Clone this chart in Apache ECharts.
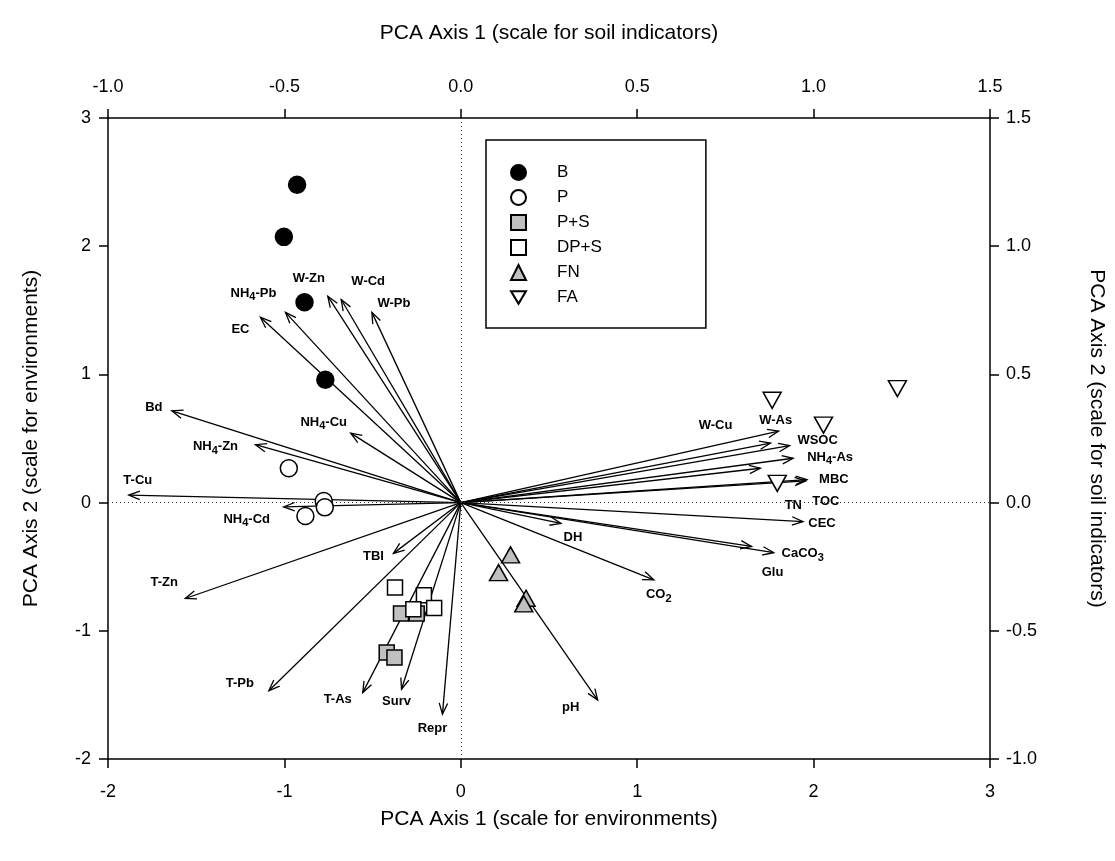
<!DOCTYPE html>
<html>
<head>
<meta charset="utf-8">
<script src="https://cdn.jsdelivr.net/npm/echarts@6/dist/echarts.min.js"></script>
<style>
  html, body { margin: 0; padding: 0; background: #fff; }
  #chart { width: 1115px; height: 861px; }
</style>
</head>
<body>
<div id="chart"></div>
<script>
// ---- Site scores (environment scale: bottom / left axes) ----
const siteB   = [[-0.928, 2.479], [-1.003, 2.073], [-0.886, 1.563], [-0.768, 0.958]];
const siteP   = [[-0.975, 0.268], [-0.777, 0.013], [-0.771, -0.037], [-0.881, -0.104]];
const sitePS  = [[-0.339, -0.865], [-0.250, -0.865], [-0.420, -1.169], [-0.376, -1.208]];
const siteDPS = [[-0.373, -0.662], [-0.209, -0.722], [-0.269, -0.831], [-0.151, -0.823]];
const siteFN  = [[0.282, -0.408], [0.214, -0.546], [0.370, -0.746], [0.357, -0.790]];
const siteFA  = [[1.765, 0.798], [2.056, 0.604], [2.475, 0.889], [1.794, 0.150]];

// ---- Soil indicator loadings (soil-indicator scale: top / right axes) ----
const indicatorNames = [
  'EC', 'NH4-Pb', 'W-Zn', 'W-Cd', 'W-Pb', 'NH4-Cu', 'Bd', 'NH4-Zn', 'T-Cu', 'NH4-Cd',
  'T-Zn', 'TBI', 'T-Pb', 'T-As', 'Surv', 'Repr',
  'W-As', 'W-Cu', 'WSOC', 'NH4-As', 'TN', 'MBC', 'TOC', 'CEC', 'CaCO3', 'Glu',
  'DH', 'CO2', 'pH'
];
const loadAxis1 = [
  -0.568, -0.497, -0.377, -0.339, -0.252, -0.312, -0.819, -0.582, -0.941, -0.502,
  -0.781, -0.191, -0.544, -0.278, -0.168, -0.052,
  0.901, 0.878, 0.932, 0.942, 0.849, 0.981, 0.978, 0.970, 0.887, 0.824,
  0.284, 0.547, 0.388
];
const loadAxis2 = [
  0.723, 0.742, 0.805, 0.792, 0.742, 0.271, 0.358, 0.226, 0.029, -0.017,
  -0.374, -0.198, -0.734, -0.741, -0.728, -0.825,
  0.279, 0.232, 0.222, 0.173, 0.134, 0.090, 0.085, -0.074, -0.195, -0.171,
  -0.081, -0.301, -0.770
];

// ---- Axis tick labels ----
const envTicks  = ['-2', '-1', '0', '1', '2', '3'];
const soilTicks = ['-1.0', '-0.5', '0.0', '0.5', '1.0', '1.5'];

// Label placement relative to each arrow tip, in pixels
const labelNudge = {
  'EC': [-20, 12], 'NH4-Pb': [-32, -19], 'W-Zn': [-19, -18], 'W-Cd': [27, -18],
  'W-Pb': [22, -9], 'NH4-Cu': [-27, -11], 'Bd': [-18, -3], 'NH4-Zn': [-40, 2],
  'T-Cu': [9, -15], 'NH4-Cd': [-37, 12], 'T-Zn': [-21, -16], 'TBI': [-20, 3],
  'T-Pb': [-29, -7], 'T-As': [-25, 7], 'Surv': [-5, 12], 'Repr': [-10, 14],
  'W-As': [-3, -11], 'W-Cu': [-55, -18], 'WSOC': [28, -5], 'NH4-As': [37, -1],
  'TN': [33, 37], 'MBC': [27, 0], 'TOC': [20, 21], 'CEC': [19, 2],
  'CaCO3': [29, 1], 'Glu': [21, 26], 'DH': [12, 14], 'CO2': [5, 15], 'pH': [-27, 7]
};

const FONT = '"Liberation Sans", Arial, Helvetica, sans-serif';

// digits in chemical names are set as subscripts
function richName(name) {
  return name.replace(/([^0-9]+)|([0-9]+)/g, (m, a, d) => a ? '{n|' + a + '}' : '{s|' + d + '}');
}

const arrowData = indicatorNames.map((n, i) => [loadAxis1[i], loadAxis2[i]]);

function renderArrow(params, api) {
  const o = api.coord([0, 0]);
  const t = api.coord([api.value(0), api.value(1)]);
  const dx = t[0] - o[0], dy = t[1] - o[1];
  const len = Math.hypot(dx, dy) || 1;
  const ux = dx / len, uy = dy / len;
  const h = 11, w = 4.2;
  const bx = t[0] - ux * h, by = t[1] - uy * h;
  const p1 = [bx - uy * w, by + ux * w];
  const p2 = [bx + uy * w, by - ux * w];
  const name = indicatorNames[params.dataIndex];
  const nd = labelNudge[name] || [0, 0];
  return {
    type: 'group',
    children: [
      { type: 'line', shape: { x1: o[0], y1: o[1], x2: t[0], y2: t[1] },
        style: { stroke: '#000', lineWidth: 1.3 } },
      { type: 'polyline', shape: { points: [p1, t, p2] },
        style: { stroke: '#000', fill: null, lineWidth: 1.3 } },
      { type: 'text', x: t[0] + nd[0], y: t[1] + nd[1],
        style: {
          text: richName(name), align: 'center', verticalAlign: 'middle',
          fill: '#000',
          rich: {
            n: { fontFamily: FONT, fontWeight: 'bold', fontSize: 13, lineHeight: 14, fill: '#000' },
            s: { fontFamily: FONT, fontWeight: 'bold', fontSize: 11, lineHeight: 11, padding: [8, 0, 0, 0], fill: '#000' }
          }
        } }
    ]
  };
}

const INV_TRI = 'path://M0,0L20,0L10,17Z';
const markerBorder = { borderColor: '#000', borderWidth: 1.5 };

function siteSeries(name, data, symbol, size, fill) {
  return {
    name, type: 'scatter', data, symbol, symbolSize: size,
    xAxisIndex: 0, yAxisIndex: 0, z: 5,
    itemStyle: Object.assign({ color: fill, opacity: 1 }, markerBorder),
    emphasis: { disabled: true }
  };
}

const axisCommon = {
  axisLine: { show: true, onZero: false, lineStyle: { color: '#000', width: 1.5 } },
  axisTick: { show: true, inside: false, length: 9, lineStyle: { color: '#000', width: 1.5 } },
  splitLine: { show: false },
  nameLocation: 'middle',
  nameTextStyle: { fontFamily: FONT, fontSize: 21, color: '#000' }
};
const labelCommon = { fontFamily: FONT, fontSize: 18, color: '#000', margin: 22 };

const chart = echarts.init(document.getElementById('chart'), null, { renderer: 'canvas' });
chart.setOption({
  animation: false,
  backgroundColor: '#fff',
  grid: { left: 108, right: 122, top: 118, bottom: 102 },
  xAxis: [
    Object.assign({}, axisCommon, {
      type: 'value', position: 'bottom', min: -2, max: 3, interval: 1,
      name: 'PCA Axis 1 (scale for environments)', nameGap: 50,
      axisLabel: Object.assign({}, labelCommon, { margin: 24, formatter: (v) => envTicks[Math.round(v + 2)] })
    }),
    Object.assign({}, axisCommon, {
      type: 'value', position: 'top', min: -1, max: 1.5, interval: 0.5,
      name: 'PCA Axis 1 (scale for soil indicators)', nameGap: 74,
      axisLabel: Object.assign({}, labelCommon, { formatter: (v) => soilTicks[Math.round((v + 1) * 2)] })
    })
  ],
  yAxis: [
    Object.assign({}, axisCommon, {
      type: 'value', position: 'left', min: -2, max: 3, interval: 1,
      name: 'PCA Axis 2 (scale for environments)', nameGap: 66, nameRotate: 90,
      axisLabel: Object.assign({}, labelCommon, { margin: 17, formatter: (v) => envTicks[Math.round(v + 2)] })
    }),
    Object.assign({}, axisCommon, {
      type: 'value', position: 'right', min: -1, max: 1.5, interval: 0.5,
      name: 'PCA Axis 2 (scale for soil indicators)', nameGap: 96, nameRotate: -90,
      axisLabel: Object.assign({}, labelCommon, { margin: 16, formatter: (v) => soilTicks[Math.round((v + 1) * 2)] })
    })
  ],
  legend: {
    orient: 'vertical', left: 486, top: 140,
    data: [
      { name: 'B', icon: 'circle' },
      { name: 'P', icon: 'circle' },
      { name: 'P+S', icon: 'rect' },
      { name: 'DP+S', icon: 'rect' },
      { name: 'FN', icon: 'triangle' },
      { name: 'FA', icon: INV_TRI }
    ],
    itemWidth: 15, itemHeight: 15, itemGap: 8,
    padding: [24, 104, 22, 24],
    borderColor: '#000', borderWidth: 1.5,
    selectedMode: false,
    textStyle: { fontFamily: FONT, fontSize: 17, color: '#000', lineHeight: 15, padding: [0, 0, 0, 26] }
  },
  series: [
    {
      type: 'scatter', xAxisIndex: 0, yAxisIndex: 0, data: [], silent: true,
      markLine: {
        silent: true, symbol: ['none', 'none'], label: { show: false },
        lineStyle: { color: '#333', width: 1, type: [1, 3] },
        data: [{ xAxis: 0 }, { yAxis: 0 }]
      }
    },
    {
      type: 'custom', xAxisIndex: 1, yAxisIndex: 1, z: 3, silent: true,
      data: arrowData, encode: { x: 0, y: 1 },
      renderItem: renderArrow
    },
    siteSeries('B', siteB, 'circle', 17, '#000'),
    siteSeries('P', siteP, 'circle', 17, '#fff'),
    siteSeries('P+S', sitePS, 'rect', 15, '#c0c0c0'),
    siteSeries('DP+S', siteDPS, 'rect', 15, '#fff'),
    siteSeries('FN', siteFN, 'triangle', [18, 16], '#c0c0c0'),
    siteSeries('FA', siteFA, INV_TRI, [18, 16], '#fff')
  ]
});
</script>
</body>
</html>
